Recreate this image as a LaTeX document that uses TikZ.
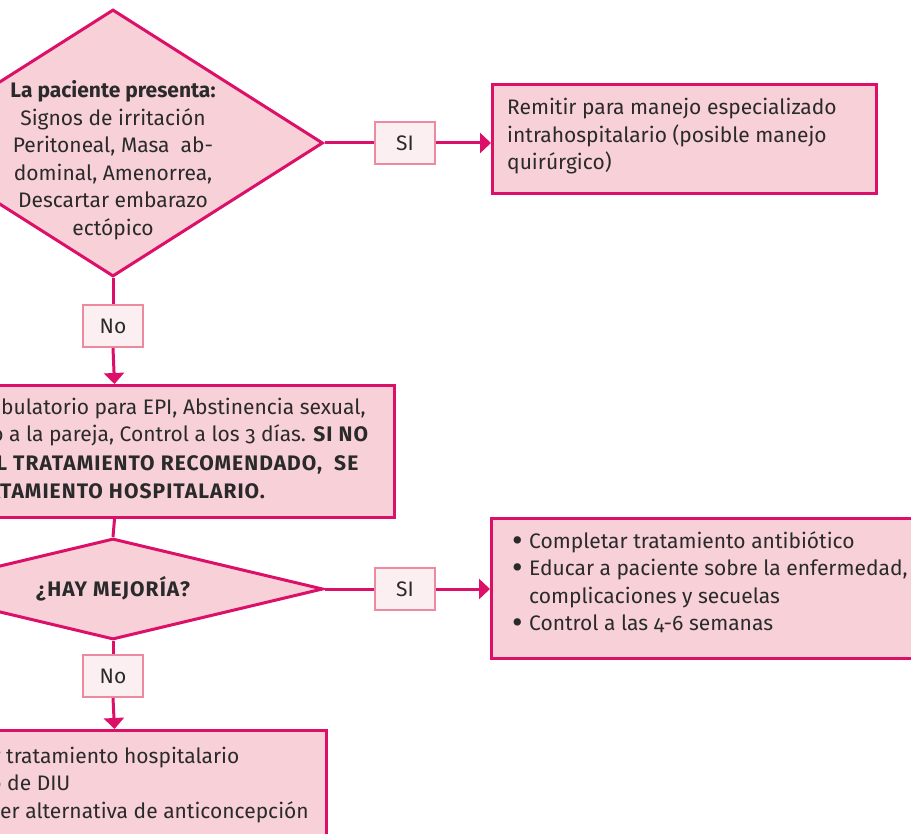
\documentclass[tikz,border=0pt]{standalone}
\usepackage{fontspec}
\setmainfont{Fira Sans}[Numbers=OldStyle]
\usetikzlibrary{shapes.geometric,arrows.meta}
\definecolor{mag}{HTML}{DC1068}
\definecolor{boxfill}{HTML}{F7D0D8}
\definecolor{lblfill}{HTML}{FCEFF2}
\definecolor{lbldraw}{HTML}{EE8AA0}
\definecolor{txt}{HTML}{2A2A2A}
\newcommand{\capsb}[1]{{\bfseries\addfontfeatures{LetterSpace=5}#1}}
\newcommand{\bigbul}{\makebox[17pt][l]{\raisebox{-3.4pt}[0pt][0pt]{\scalebox{1.55}{•}}}}
\begin{document}
\begin{tikzpicture}[x=1pt,y=-1pt,
  every node/.style={text=txt},
  flowbox/.style={draw=mag, line width=3pt, fill=boxfill, rectangle, inner sep=0pt},
  decision/.style={diamond, draw=mag, line width=3pt, fill=boxfill, inner sep=0pt},
  lbl/.style={draw=lbldraw, line width=2pt, fill=lblfill, inner sep=0pt,
    minimum width=60pt, minimum height=42pt, font=\fontsize{21}{25}\selectfont},
  conn/.style={draw=mag, line width=3pt},
  arr/.style={conn, -{Triangle[length=11pt,width=20pt]}},
  txtline/.style={anchor=base west, inner sep=0pt, font=\fontsize{21}{27.5}\selectfont},
  txtblock/.style={inner sep=0pt, font=\fontsize{21}{27.5}\selectfont}
]
\useasboundingbox (0,0) rectangle (911,834);
\clip (0,0) rectangle (911,834);

% shapes
\node[decision, minimum width=420pt, minimum height=267pt] (d1) at (113,143) {};
\node[flowbox, minimum width=384pt, minimum height=109pt, anchor=north west] (b1) at (491,83) {};
\node[lbl] (si1) at (405,143) {SI};
\node[lbl] (no1) at (113,326) {No};
\node[flowbox, minimum width=560pt, minimum height=132pt, anchor=north west] (b2) at (-167,384) {};
\node[decision, minimum width=420pt, minimum height=101pt] (d2) at (113,589) {};
\node[lbl] (si2) at (405,589) {SI};
\node[flowbox, minimum width=470pt, minimum height=140pt, anchor=north west] (b3) at (490,517) {};
\node[lbl] (no2) at (113,676) {No};
\node[flowbox, minimum width=424pt, minimum height=151pt, anchor=north west] (b4) at (-99,729) {};

% connectors
\draw[conn] (d1.east) -- (si1.west);
\draw[arr] (si1.east) -- (si1.east -| b1.west);
\draw[conn] (d1.south) -- (no1.north);
\draw[arr] (no1.south) -- (b2.north);
\draw[conn] (b2.south) -- (d2.north);
\draw[conn] (d2.east) -- (si2.west);
\draw[arr] (si2.east) -- (si2.east -| b3.west);
\draw[conn] (d2.south) -- (no2.north);
\draw[arr] (no2.south) -- (b4.north);

% texts
\node[txtblock, align=center] (t1) at (113,160)
  {\textbf{La paciente presenta:}\\Signos de irritación\\Peritoneal, Masa~~ab-\\dominal, Amenorrea,\\Descartar embarazo\\ectópico};
\node[txtblock, align=left, anchor=north west] (t2) at (507,98)
  {Remitir para manejo especializado\\intrahospitalario (posible manejo\\quirúrgico)};
\node[txtline] (t3a) at (1,415) {\llap{Tratamiento am}bulatorio para EPI, Abstinencia sexual,};
\node[txtline] (t3b) at (9,442) {\llap{Tratamiento }a la pareja, Control a los 3 días. \capsb{SI NO}};
\node[txtline] (t3c) at (13,470) {\llap{\capsb{HAY ADHERENCIA AL }}\capsb{TRATAMIENTO RECOMENDADO,~~SE}};
\node[txtline] (t3d) at (0,498) {\llap{\capsb{DEBE DAR TRA}}\capsb{TAMIENTO HOSPITALARIO.}};
\node[txtline, anchor=base] (t4) at (113,596) {\capsb{¿HAY MEJORÍA?}};
\node[txtblock, align=left, anchor=north west] (t5) at (512,531)
  {\bigbul Completar tratamiento antibiótico\\
   \bigbul Educar a paciente sobre la enfermedad,\\
   \hspace*{17pt}complicaciones y secuelas\\
   \bigbul Control a las 4-6 semanas};
\node[txtline] (t6a) at (6,763) {\llap{\bigbul Iniciar }tratamiento hospitalario};
\node[txtline] (t6b) at (7,790) {\llap{\bigbul Retiro }de DIU};
\node[txtline] (t6c) at (0,818) {\llap{\bigbul Ofrec}er alternativa de anticoncepción};
\end{tikzpicture}
\end{document}
